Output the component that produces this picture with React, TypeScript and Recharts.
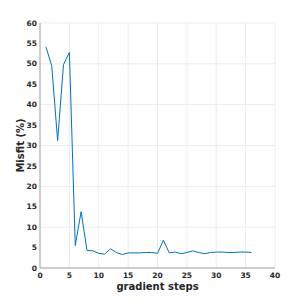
import React from 'react';
import { LineChart, Line, XAxis, YAxis, CartesianGrid } from 'recharts';

const steps = [1,2,3,4,5,6,7,8,9,10,11,12,13,14,15,16,17,18,19,20,21,22,23,24,25,26,27,28,29,30,31,32,33,34,35,36];
const misfit = [54.2,49.5,31.2,49.8,52.8,5.5,13.8,4.3,4.2,3.6,3.4,4.7,3.8,3.3,3.7,3.7,3.7,3.8,3.8,3.6,6.8,3.7,3.9,3.5,3.8,4.2,3.8,3.5,3.8,3.9,3.9,3.8,3.8,3.9,3.9,3.8];
const xTicks = [0,5,10,15,20,25,30,35,40];
const yTicks = [0,5,10,15,20,25,30,35,40,45,50,55,60];

const data = steps.map((s, i) => ({ step: s, misfit: misfit[i] }));

const tickStyle = { fontSize: 7.5, fontWeight: 'bold' as const, fill: '#262626', fontFamily: 'DejaVu Sans' };

export default function App() {
  return (
    <div style={{ position: 'absolute', left: 0, top: 0, width: 305, height: 302, background: '#fff' }}>
      <LineChart width={305} height={302} data={data} margin={{ top: 23, right: 30, bottom: 0, left: 0 }}>
        <CartesianGrid xAxisId="b" yAxisId="l" stroke="#ebebeb" strokeWidth={1} />
        <XAxis
          xAxisId="b"
          dataKey="step"
          type="number"
          domain={[0, 40]}
          ticks={xTicks}
          height={34}
          stroke="#a6a6a6"
          tickLine={false}
          tickSize={0}
          tickMargin={4.5}
          tick={tickStyle}
          label={{ value: 'gradient steps', position: 'insideBottom', offset: 12, style: { fontSize: 10, fontWeight: 'bold', fill: '#262626', fontFamily: 'DejaVu Sans' } }}
        />
        <XAxis xAxisId="t" orientation="top" type="number" domain={[0, 40]} ticks={xTicks} height={0} stroke="#a6a6a6" tick={false} tickLine={false} />
        <YAxis
          yAxisId="l"
          type="number"
          domain={[0, 60]}
          ticks={yTicks}
          width={40}
          stroke="#a6a6a6"
          tickLine={false}
          tickSize={0}
          tickMargin={3}
          tick={tickStyle}
          label={{ value: 'Misfit (%)', angle: -90, position: 'insideLeft', offset: 20, style: { textAnchor: 'middle', fontSize: 10, fontWeight: 'bold', fill: '#262626', fontFamily: 'DejaVu Sans' } }}
        />
        <YAxis yAxisId="r" orientation="right" type="number" domain={[0, 60]} ticks={yTicks} width={0} stroke="#a6a6a6" tick={false} tickLine={false} />
        <Line xAxisId="b" yAxisId="l" dataKey="misfit" type="linear" stroke="#0072BD" strokeWidth={1} dot={false} isAnimationActive={false} />
      </LineChart>
    </div>
  );
}
